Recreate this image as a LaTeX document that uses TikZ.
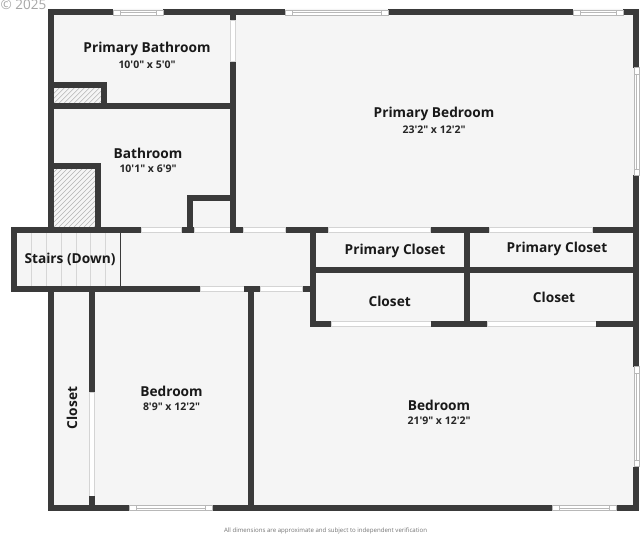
\documentclass[tikz,border=0pt]{standalone}
\usepackage{fontspec}
\setmainfont{Open Sans}
\newfontfamily\labfont{Open Sans}
\definecolor{wallc}{HTML}{3A3A3A}
\definecolor{floorc}{HTML}{F5F5F5}
\definecolor{edgec}{HTML}{D4D4D4}
\definecolor{windc}{HTML}{B8B8B8}
\definecolor{treadc}{HTML}{D6D6D6}
\definecolor{hatchc}{HTML}{B4B4B4}
\newcommand\wallr[4]{\fill[wallc] (#1,#2) rectangle (#3,#4);}
\newcommand\doorr[4]{\fill[white] (#1,#2) rectangle (#3,#4);\draw[edgec,line width=.5pt] (#1,#2) rectangle (#3,#4);}
\newcommand\winh[6]{\fill[white] (#1,#5) rectangle (#2,#6);\draw[windc,line width=.5pt] (#1,#5) rectangle (#2,#6);\draw[windc,line width=.5pt] (#3,#5) rectangle (#4,#6);\draw[windc,line width=.5pt] (#3,{(#5+#6)/2}) -- (#4,{(#5+#6)/2});}
\newcommand\winv[6]{\fill[white] (#5,#1) rectangle (#6,#2);\draw[windc,line width=.5pt] (#5,#1) rectangle (#6,#2);\draw[windc,line width=.5pt] (#5,#3) rectangle (#6,#4);\draw[windc,line width=.5pt] ({(#5+#6)/2},#3) -- ({(#5+#6)/2},#4);}
\newcommand\hatchbox[4]{\begin{scope}\clip (#1,#2) rectangle (#3,#4);\fill[floorc] (#1,#2) rectangle (#3,#4);\foreach \k in {0,5,...,140}{\draw[hatchc,line width=.6pt] ({#1+\k-70},#4) -- ++(70,-70);}\end{scope}}
\tikzset{x=1pt,y=-1pt,
 roomname/.style={font=\labfont\bfseries\fontsize{13.7}{15}\selectfont,text=black!90,inner sep=0pt},
 roomdim/.style={font=\labfont\bfseries\fontsize{10.5}{12}\selectfont,text=black!85,inner sep=0pt}}
\begin{document}
\begin{tikzpicture}
\useasboundingbox (0,0) rectangle (640,534);
\fill[white] (0,0) rectangle (640,534);
% floor
\fill[floorc] (48,9) -- (639,9) -- (639,510) -- (48,510) -- (48,291) -- (11,291) -- (11,227) -- (48,227) -- cycle;
% hatches
\hatchbox{54}{88}{101}{103.3}
\hatchbox{54}{169}{95}{227}
% stairs treads
\foreach \x in {31.7,46.7,61.7,76,90.7,105.7}{\draw[treadc,line width=1pt] (\x,232.7) -- (\x,286);}
\fill[wallc] (120,232) rectangle (121,286);
% outer top
\wallr{48.3}{9.3}{113.3}{15.3}
\wallr{163.3}{9.3}{285}{15.3}
\wallr{388}{9.3}{573.3}{15.3}
\wallr{623.3}{9.3}{639.3}{15.3}
\winh{113.3}{163.3}{120}{156.7}{9.8}{15}
\winh{285}{388}{292}{381.3}{9.8}{15}
\winh{573.3}{623.3}{580}{616.7}{9.8}{15}
% left wall
\wallr{48.3}{9.3}{54}{232}
\wallr{48.3}{290}{54}{510.7}
% right wall
\wallr{633.3}{9.3}{639.3}{67.7}
\wallr{633.3}{175}{639.3}{366.7}
\wallr{633.3}{466.7}{639.3}{510.7}
\winv{67.7}{175}{74}{169}{633.8}{639}
\winv{366.7}{466.7}{373.3}{460}{633.8}{639}
% bottom
\wallr{48.3}{505}{129.3}{510.7}
\wallr{212}{505}{552.7}{510.7}
\wallr{616}{505}{639.3}{510.7}
\winh{129.3}{212}{136.7}{205.7}{505.3}{510.5}
\winh{552.7}{616}{559}{609.3}{505.3}{510.5}
% primary bath / bath
\wallr{230}{15}{236}{20}
\doorr{230.3}{20}{235.7}{61.7}
\wallr{230}{61.7}{236}{233}
\wallr{48.3}{103.3}{236}{109.3}
\wallr{54}{82.3}{106.7}{88}
\wallr{101}{82.3}{106.7}{103.3}
\wallr{48.3}{163.3}{100.7}{169}
\wallr{95}{163.3}{100.7}{227}
\wallr{186.7}{195}{236}{200.7}
\wallr{186.7}{195}{192.7}{233}
% stairs band top
\wallr{11}{226.7}{141.3}{232.7}
\doorr{141.3}{227}{181.7}{232.5}
\wallr{181.7}{226.7}{194}{232.7}
\doorr{194}{227}{230}{232.5}
\wallr{230}{226.7}{243.3}{232.7}
\doorr{243.3}{227}{285.7}{232.5}
\wallr{285.7}{226.7}{328.3}{232.7}
\doorr{328.3}{227}{430.7}{232.5}
\wallr{430.7}{226.7}{489.3}{232.7}
\doorr{489.3}{227}{592.7}{232.5}
\wallr{592.7}{226.7}{639.3}{232.7}
% stairs left & bottom band
\wallr{11}{226.7}{17}{291.7}
\wallr{11}{286}{200}{291.7}
\doorr{200}{286.3}{244}{291.5}
\wallr{244}{286}{260}{291.7}
\doorr{260}{286.3}{302.7}{291.5}
\wallr{302.7}{286}{316}{291.7}
% closets
\wallr{310}{226.7}{315.7}{326.7}
\wallr{310}{267.3}{639.3}{272.7}
\wallr{464.3}{232}{470.3}{326.7}
\wallr{310}{320.7}{331.3}{326.7}
\doorr{331.3}{321}{431}{326.4}
\wallr{431}{320.7}{487.3}{326.7}
\doorr{487.3}{321}{596}{326.4}
\wallr{596}{320.7}{639.3}{326.7}
% lower rooms
\wallr{89}{291}{95}{392.7}
\doorr{89.3}{392.7}{94.7}{496}
\wallr{89}{496}{95}{505}
\wallr{248.3}{291}{254.3}{505}
% labels
\node[roomname] (n1) at (147,49.3) {Primary Bathroom};
\node[roomdim] (d1) at (147,64.8) {10'0" x 5'0"};
\node[roomname] (n2) at (148,153) {Bathroom};
\node[roomdim] (d2) at (148,168.3) {10'1" x 6'9"};
\node[roomname] (n3) at (434,114.3) {Primary Bedroom};
\node[roomdim] (d3) at (434,129.8) {23'2" x 12'2"};
\node[roomname] (n4) at (395,251) {Primary Closet};
\node[roomname] (n5) at (557,249) {Primary Closet};
\node[roomname] (n6) at (389.7,301) {Closet};
\node[roomname] (n7) at (554,297.3) {Closet};
\node[roomname] (n8) at (70,259.5) {Stairs (Down)};
\node[roomname] (n9) at (171.5,391) {Bedroom};
\node[roomdim] (d9) at (171.5,406.5) {8'9" x 12'2"};
\node[roomname] (n10) at (439,405.5) {Bedroom};
\node[roomdim] (d10) at (439,420.8) {21'9" x 12'2"};
\node[roomname,rotate=90] (n11) at (72,408) {Closet};
\node[inner sep=0pt,text=black!55,font=\fontsize{6.1}{7}\selectfont] (foot) at (325.5,530.5) {All dimensions are approximate and subject to independent verification};
\node[inner sep=0pt,text=black!35,font=\fontsize{13.5}{15}\selectfont] (copy) at (23.5,4.5) {© 2025};
\end{tikzpicture}
\end{document}
